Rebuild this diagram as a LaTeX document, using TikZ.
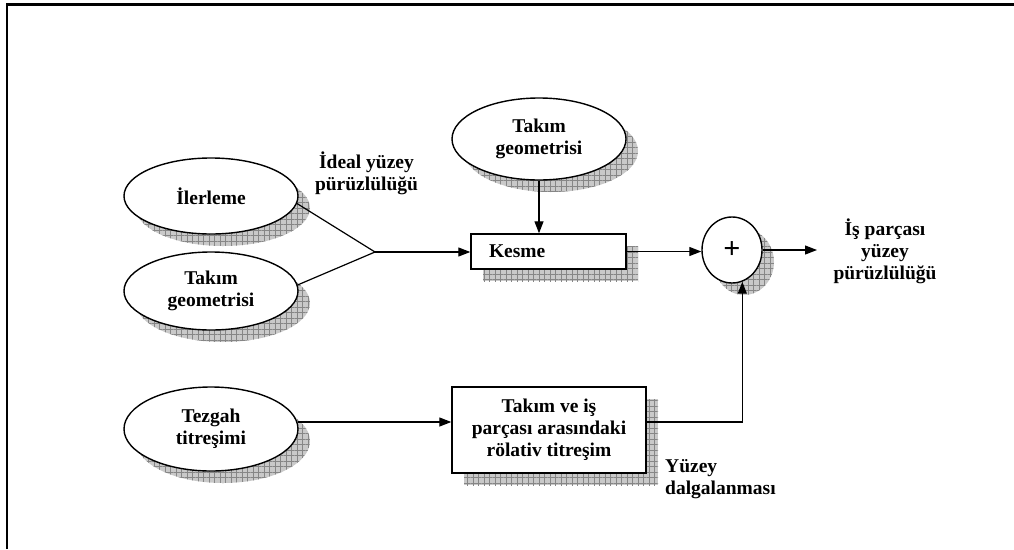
\documentclass[tikz,border=0pt]{standalone}
\usepackage{fontspec}
\setmainfont{Liberation Serif}
\usetikzlibrary{arrows.meta,shapes.geometric,shadows,patterns.meta,calc}

\begin{document}
\begin{tikzpicture}[x=1pt,y=-1pt,
  txt/.style={font=\bfseries\fontsize{19.5}{22}\selectfont, align=center},
  shad/.style={
    general shadow={shadow xshift=12pt,shadow yshift=-12pt,fill=gray!42,draw=none},
    general shadow={shadow xshift=12pt,shadow yshift=-12pt,draw=none,
      pattern={Hatch[distance=5.5pt,angle=0,line width=0.8pt]},pattern color=gray!95}},
  oval/.style={ellipse, draw, line width=1.4pt, fill=white, minimum width=174pt,
    minimum height=80pt, inner sep=0pt, txt, shad},
  box/.style={rectangle, draw, line width=1.4pt, fill=white, inner sep=0pt, txt, shad},
  conn/.style={line width=1.2pt},
  arr/.style={conn, -{Triangle[length=12pt,width=9pt]}},
  lbl/.style={txt, inner sep=0pt}
]
\useasboundingbox (0,0) rectangle (1014,549);

% frame
\draw[line width=2.5pt] (7,549) -- (7,4.5) -- (1014,4.5);

% nodes
\node[oval, minimum height=76pt] (ilr) at (211,196) {İlerleme};
\node[oval, minimum height=78pt] (tg1) at (211,291) {Takım\\geometrisi};
\node[oval, minimum height=82pt] (tg2) at (539,139) {Takım\\geometrisi};
\node[oval, minimum height=84pt] (tez) at (211,429) {Tezgah\\titreşimi};

\node[box, minimum height=35pt, text width=119pt, inner xsep=18pt, align=left]
  (kes) at (548.5,251.5) {Kesme};
\node[box, minimum width=194pt, minimum height=86pt]
  (rel) at (549,430) {Takım ve iş\\parçası arasındaki\\rölativ titreşim};

\node[ellipse, draw, line width=1.4pt, fill=white, minimum width=60pt,
  minimum height=66pt, inner sep=0pt, shad,
  font=\bfseries\fontsize{30}{30}\selectfont] (plus) at (732,250) {+};

% labels
\node[lbl] (ideal) at (366.5,173) {İdeal yüzey\\pürüzlülüğü};
\node[lbl] (out) at (885,251.5) {İş parçası\\yüzey\\pürüzlülüğü};
\node[lbl, anchor=west, align=left] (dalga) at (665,479) {Yüzey\\dalgalanması};

% connectors
\coordinate (j) at (375,252);
\draw[conn] (ilr.-5) -- (j);
\draw[conn] (tg1.4) -- (j);
\draw[arr] (j) -- (j -| kes.west);
\draw[arr] (tg2.south) -- (tg2.south |- kes.north);
\draw[arr] (kes.east) -- (kes.east -| plus.west);
\coordinate (o) at (817,250);
\draw[arr] (plus.east) -- (o);
\coordinate (t1) at ($(tez.east)+(-1,-7)$);
\draw[arr] (t1) -- (t1 -| rel.west);
\coordinate (b1) at (t1 -| rel.east);
\draw[arr] (b1) -| (plus.-72);
\end{tikzpicture}
\end{document}
